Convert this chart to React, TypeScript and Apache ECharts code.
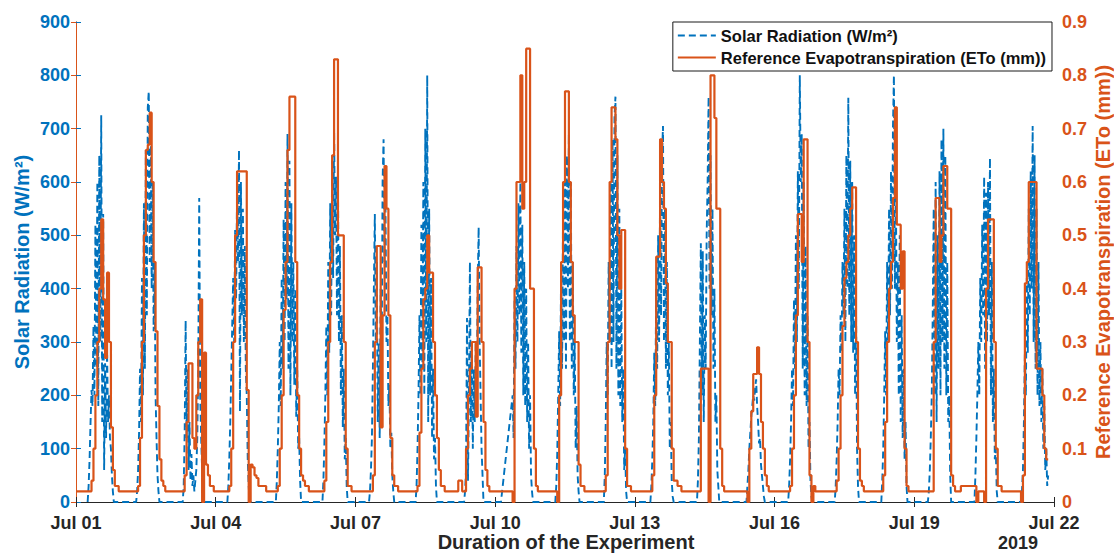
import React, { useEffect, useRef } from "react";
import * as echarts from "echarts";

// Day labels on the x axis (hours counted from Jul 01 00:00)
const tickDays = ["Jul 01", "Jul 04", "Jul 07", "Jul 10", "Jul 13", "Jul 16", "Jul 19", "Jul 22"];
const yearLabel = "2019";

// Solar radiation (W/m²): half-hourly readings per day, starting at the given hour of that day.
const solarStartHour = [6, 7, 7, 6, 7, 7, 7, 7, 8, 3, 7, 8, 8, 8, 9.5, 7, 7, 7, 7, 7, 7];
const solarRadiation: (number | null)[][] = [
  [0, 30, 80, 150, 210, 180, 330, 200, 520, 250, 600, 180, 650, 300, 725, 150, 540, 60, 260, 120, 290, 150, 200, 120, 100, 50, 20, 0],
  [0, 20, 60, 130, 250, 150, 420, 200, 560, 250, 660, 350, 740, 770, 450, 700, 400, 600, 320, 450, 200, 120, 50, 20, 0],
  [0, 30, 130, 340, 120, 250, 60, 150, 40, 90, 30, 50, 20, 40, 60, 120, 250, 570, 200, 120, 60, 20, 0],
  [0, 30, 80, 150, 240, 330, 420, 300, 510, 380, 580, 450, 660, 170, 600, 350, 550, 300, 480, 250, 200, 80, 30, 0],
  [0, 40, 100, 180, 300, 180, 420, 250, 530, 300, 600, 380, 690, 250, 640, 200, 560, 300, 450, 220, 400, 160, 250, 100, 120, 40, 0],
  [0, 40, 110, 200, 330, 200, 450, 280, 560, 350, 640, 420, 700, 500, 610, 350, 600, 300, 480, 200, 350, 140, 250, 80, 120, 30, 0],
  [0, 20, 60, 120, 250, 400, 540, 300, 450, 150, 300, 120, 400, 250, 600, 680, 450, 550, 300, 350, 180, 220, 100, 130, 50, 20, 0],
  [0, 30, 100, 200, 350, 200, 520, 250, 600, 200, 700, 300, 800, 150, 550, 200, 420, 120, 250, 80, 120, 30, 0],
  [0, 20, 60, 345, 40, 200, 450, 150, 300, 100, 250, 150, 300, 200, 400, 515, 300, 200, 100, 50, 0],
  [0, null, null, null, null, null, null, null, null, null, null, null, 200, 120, 380, 250, 480, 300, 560, 350, 600, 280, 520, 200, 450, 180, 400, 150, 300, 100, 200, 50, 20, 0],
  [0, 30, 90, 200, 320, 180, 450, 250, 550, 300, 600, 250, 650, 400, 690, 300, 600, 250, 450, 200, 300, 100, 180, 50, 20, 0],
  [0, 50, 150, 300, 200, 450, 300, 600, 250, 680, 300, 720, 760, 250, 650, 200, 550, 180, 400, 150, 250, 60, 100, 20, 0],
  [0, 30, 80, 150, 280, 180, 400, 250, 500, 300, 580, 350, 650, 705, 300, 550, 250, 450, 200, 300, 100, 150, 40, 10, 0],
  [0, 40, 120, 300, 485, 200, 470, 150, 350, 250, 500, 600, 760, 400, 650, 350, 550, 250, 400, 150, 200, 60, 30, 0],
  [0, 30, 60, 100, 130, 160, 180, 200, 190, 215, 230, 180, 150, 110, 120, 70, 50, 30, 10, 0],
  [0, 30, 80, 150, 250, 180, 380, 250, 500, 300, 620, 400, 800, 600, 690, 250, 600, 200, 480, 180, 350, 100, 150, 40, 10, 0],
  [0, 30, 80, 150, 250, 200, 350, 280, 450, 350, 550, 300, 650, 400, 758, 350, 640, 300, 600, 280, 500, 200, 350, 100, 30, 0],
  [0, 40, 100, 200, 320, 200, 450, 300, 550, 350, 620, 400, 700, 800, 400, 600, 300, 450, 200, 500, 150, 350, 120, 250, 80, 150, 30, 0],
  [0, 20, 60, 120, 200, 350, 550, 200, 600, 150, 500, 250, 620, 200, 680, 300, 700, 250, 650, 200, 450, 150, 200, 50, 0],
  [0, 50, 120, 200, 300, 200, 420, 300, 520, 350, 610, 250, 580, 300, 600, 350, 645, 200, 450, 150, 250, 80, 100, 20, 0],
  [0, 20, 60, 150, 280, 200, 420, 280, 550, 350, 620, 400, 705, 300, 650, 250, 550, 200, 450, 180, 300, 150, 250, 100, 180, 60, 100, 30, 50],
];

// Reference evapotranspiration ETo (mm): hourly values per day, hour 0 onwards.
const et0: number[][] = [
  [0.02, 0.02, 0.02, 0.02, 0.02, 0.02, 0.02, 0.02, 0.04, 0.1, 0.2, 0.3, 0.4, 0.53, 0.38, 0.27, 0.43, 0.3, 0.14, 0.06, 0.03, 0.03, 0.02, 0.02],
  [0.02, 0.02, 0.02, 0.02, 0.02, 0.02, 0.02, 0.02, 0.03, 0.12, 0.3, 0.5, 0.66, 0.67, 0.73, 0.6, 0.45, 0.32, 0.18, 0.08, 0.04, 0.03, 0.02, 0.02],
  [0.02, 0.02, 0.02, 0.02, 0.02, 0.02, 0.02, 0.02, 0.05, 0.15, 0.26, 0.26, 0.12, 0.1, 0.2, 0.3, 0.38, 0, 0.28, 0.07, 0.05, 0.03, 0.03, 0.02],
  [0.02, 0.02, 0.02, 0.02, 0.02, 0.02, 0.02, 0.03, 0.1, 0.3, 0.5, 0.62, 0.62, 0.62, 0.62, 0.62, 0.21, 0, 0.07, 0.065, 0.05, 0.045, 0.03, 0.03],
  [0.03, 0.03, 0.02, 0.02, 0.02, 0.02, 0.02, 0.02, 0.03, 0.1, 0.2, 0.36, 0.45, 0.66, 0.76, 0.76, 0.76, 0.45, 0.2, 0.1, 0.05, 0.04, 0.03, 0.03],
  [0.02, 0.02, 0.02, 0.02, 0.02, 0.02, 0.02, 0.02, 0.04, 0.15, 0.3, 0.45, 0.65, 0.83, 0.83, 0.5, 0.5, 0.5, 0.3, 0.1, 0.03, 0.03, 0.02, 0.02],
  [0.02, 0.02, 0.02, 0.02, 0.02, 0.02, 0.02, 0.02, 0.02, 0.05, 0.3, 0.48, 0.48, 0.14, 0.35, 0.63, 0.55, 0.35, 0.12, 0.05, 0.03, 0.03, 0.02, 0.02],
  [0.02, 0.02, 0.02, 0.02, 0.02, 0.02, 0.02, 0.02, 0.03, 0.13, 0.25, 0.38, 0.4, 0.5, 0.43, 0.43, 0.3, 0.2, 0.12, 0.06, 0.03, 0.03, 0.02, 0.02],
  [0.02, 0.02, 0.02, 0.02, 0.02, 0.04, 0.04, 0.02, 0.02, 0.1, 0.2, 0.25, 0.3, 0.3, 0.16, 0.44, 0.44, 0.3, 0.15, 0.06, 0.03, 0.02, 0.02, 0.02],
  [0.02, 0.02, 0.02, 0.02, 0.02, 0.02, 0.02, 0.02, 0.02, 0, 0.4, 0.6, 0.6, 0.8, 0.55, 0.6, 0.85, 0.85, 0.4, 0.4, 0.1, 0.03, 0.02, 0.02],
  [0.02, 0.02, 0.02, 0.02, 0.02, 0.02, 0.02, 0.02, 0, 0.2, 0.45, 0.6, 0.77, 0.77, 0.6, 0.45, 0.35, 0.3, 0.3, 0.07, 0.03, 0.03, 0.02, 0.02],
  [0.02, 0.02, 0.02, 0.02, 0.02, 0.02, 0.02, 0.02, 0.02, 0.05, 0.3, 0.6, 0.74, 0.74, 0.68, 0.5, 0.4, 0.51, 0.51, 0.1, 0.03, 0.03, 0.02, 0.02],
  [0.02, 0.02, 0.02, 0.02, 0.02, 0.02, 0.02, 0.02, 0.02, 0.05, 0.2, 0.46, 0.46, 0.68, 0.6, 0.55, 0.41, 0.3, 0.3, 0.1, 0.04, 0.04, 0.03, 0.03],
  [0.02, 0.02, 0.02, 0.02, 0.02, 0.02, 0.02, 0.02, 0.02, 0.02, 0.25, 0.25, 0.25, 0.25, 0, 0.8, 0.8, 0.72, 0.55, 0.55, 0.1, 0.03, 0.02, 0.02],
  [0.02, 0.02, 0.02, 0.02, 0.02, 0.02, 0.02, 0.02, 0.02, 0.02, 0, 0.1, 0.17, 0.24, 0.24, 0.29, 0.24, 0.15, 0.1, 0.05, 0.03, 0.02, 0.02, 0.02],
  [0.02, 0.02, 0.02, 0.02, 0.02, 0.02, 0.02, 0.02, 0.03, 0.1, 0.2, 0.35, 0.54, 0.54, 0.45, 0.68, 0.68, 0.3, 0.05, 0, 0.03, 0.02, 0.02, 0.02],
  [0.02, 0.02, 0.02, 0.02, 0.02, 0.02, 0.02, 0.02, 0.04, 0.1, 0.2, 0.33, 0.42, 0.45, 0.5, 0.55, 0.59, 0.59, 0.3, 0.1, 0.04, 0.03, 0.02, 0.02],
  [0.02, 0.02, 0.02, 0.02, 0.02, 0.02, 0.02, 0.02, 0.05, 0.15, 0.3, 0.4, 0.45, 0.57, 0.74, 0.52, 0.52, 0.4, 0.47, 0.1, 0.03, 0.02, 0.02, 0.02],
  [0.02, 0.02, 0.02, 0.02, 0.02, 0.02, 0.02, 0.02, 0.02, 0.02, 0.3, 0.57, 0.57, 0.45, 0.5, 0.63, 0.63, 0.55, 0.55, 0.05, 0.03, 0.02, 0.02, 0.02],
  [0.03, 0.03, 0.03, 0.03, 0.03, 0.03, 0.03, 0.03, 0, 0.02, 0.02, 0.02, 0, 0.4, 0.53, 0.53, 0.53, 0.3, 0.1, 0.03, 0.03, 0.02, 0.02, 0.02],
  [0.02, 0.02, 0.02, 0.02, 0.02, 0.02, 0.02, 0, 0.05, 0.41, 0.45, 0.6, 0.6, 0.6, 0.6, 0.25, 0.25, 0.25, 0.2, 0.1, 0.08, 0.08],
];

const BLUE = "#0072BD";
const ORANGE = "#D95319";
const FONT = "'Liberation Sans', Arial, Helvetica, sans-serif";

export default function App() {
  const ref = useRef<HTMLDivElement>(null);

  useEffect(() => {
    if (!ref.current) return;
    const chart = echarts.init(ref.current, undefined, { renderer: "svg" });

    const solarData: [number, number][] = [];
    solarRadiation.forEach((vals, d) => {
      vals.forEach((v, i) => {
        if (v !== null) solarData.push([d * 24 + solarStartHour[d] + i * 0.5, v]);
      });
    });
    const etData: [number, number][] = [];
    et0.forEach((vals, d) => {
      vals.forEach((v, h) => etData.push([d * 24 + h, v]));
    });

    const xLabel = (v: number) => tickDays[Math.round(v / 72)] ?? "";

    const option: any = {
      animation: false,
      textStyle: { fontFamily: FONT },
      grid: { left: 76, right: 60, top: 22, bottom: 52, containLabel: false },
      legend: {
        orient: "vertical",
        right: 62,
        top: 22,
        padding: [5, 6, 5, 4],
        itemGap: 5,
        itemWidth: 38,
        itemHeight: 14,
        backgroundColor: "#ffffff",
        borderColor: "#1a1a1a",
        borderWidth: 1,
        itemStyle: { opacity: 0 },
        textStyle: { fontSize: 16.5, fontWeight: "bold", color: "#111", fontFamily: FONT },
        data: ["Solar Radiation (W/m²)", "Reference Evapotranspiration (ETo (mm))"],
        z: 20,
      },
      xAxis: [
        {
          type: "value",
          min: 0,
          max: 504,
          interval: 72,
          position: "bottom",
          axisLine: { show: true, lineStyle: { color: "#262626", width: 1 } },
          axisTick: { show: true, inside: true, length: 5, lineStyle: { color: "#262626" } },
          axisLabel: {
            formatter: xLabel,
            fontSize: 18,
            fontWeight: "bold",
            color: "#262626",
            margin: 12,
            showMinLabel: true,
            showMaxLabel: true,
          },
          splitLine: { show: false },
        },
        {
          type: "value",
          min: 0,
          max: 504,
          interval: 72,
          position: "top",
          axisLine: { show: true, lineStyle: { color: "#262626", width: 1 } },
          axisTick: { show: true, inside: true, length: 5, lineStyle: { color: "#262626" } },
          axisLabel: { show: false },
          splitLine: { show: false },
        },
      ],
      yAxis: [
        {
          type: "value",
          min: 0,
          max: 900,
          interval: 100,
          position: "left",
          axisLine: { show: true, lineStyle: { color: BLUE, width: 1 } },
          axisTick: { show: true, inside: true, length: 5, lineStyle: { color: BLUE } },
          axisLabel: { fontSize: 18, fontWeight: "bold", color: BLUE, margin: 6 },
          splitLine: { show: false },
        },
        {
          type: "value",
          min: 0,
          max: 0.9,
          interval: 0.1,
          position: "right",
          axisLine: { show: true, lineStyle: { color: ORANGE, width: 1 } },
          axisTick: { show: true, inside: true, length: 5, lineStyle: { color: ORANGE } },
          axisLabel: {
            fontSize: 18,
            fontWeight: "bold",
            color: ORANGE,
            margin: 8,
            formatter: (v: number) => (v === 0 ? "0" : v.toFixed(1)),
          },
          splitLine: { show: false },
        },
      ],
      series: [
        {
          name: "Solar Radiation (W/m²)",
          type: "line",
          xAxisIndex: 0,
          yAxisIndex: 0,
          data: solarData,
          showSymbol: false,
          symbol: "none",
          lineStyle: { color: BLUE, width: 1.9, type: [7, 4] },
          itemStyle: { color: BLUE },
          z: 2,
        },
        {
          name: "Reference Evapotranspiration (ETo (mm))",
          type: "line",
          xAxisIndex: 0,
          yAxisIndex: 1,
          data: etData,
          step: "end",
          showSymbol: false,
          symbol: "none",
          lineStyle: { color: ORANGE, width: 2.2 },
          itemStyle: { color: ORANGE },
          z: 3,
        },
      ],
      graphic: [
        {
          type: "text",
          x: 22,
          y: 262,
          rotation: Math.PI / 2,
          style: {
            text: "Solar Radiation (W/m²)",
            fill: BLUE,
            font: `bold 20px ${FONT}`,
            textAlign: "center",
            textVerticalAlign: "middle",
          },
        },
        {
          type: "text",
          x: 1103,
          y: 262,
          rotation: Math.PI / 2,
          style: {
            text: "Reference Evapotranspiration (ETo (mm))",
            fill: ORANGE,
            font: `bold 20px ${FONT}`,
            textAlign: "center",
            textVerticalAlign: "middle",
          },
        },
        {
          type: "text",
          x: 566,
          y: 542,
          style: {
            text: "Duration of the Experiment",
            fill: "#262626",
            font: `bold 20px ${FONT}`,
            textAlign: "center",
            textVerticalAlign: "middle",
          },
        },
        {
          type: "text",
          x: 1018,
          y: 543,
          style: {
            text: yearLabel,
            fill: "#262626",
            font: `bold 18px ${FONT}`,
            textAlign: "center",
            textVerticalAlign: "middle",
          },
        },
      ],
    };

    chart.setOption(option);
    return () => chart.dispose();
  }, []);

  return (
    <div
      ref={ref}
      style={{ position: "absolute", left: 0, top: 0, width: 1114, height: 554, background: "#fff" }}
    />
  );
}
